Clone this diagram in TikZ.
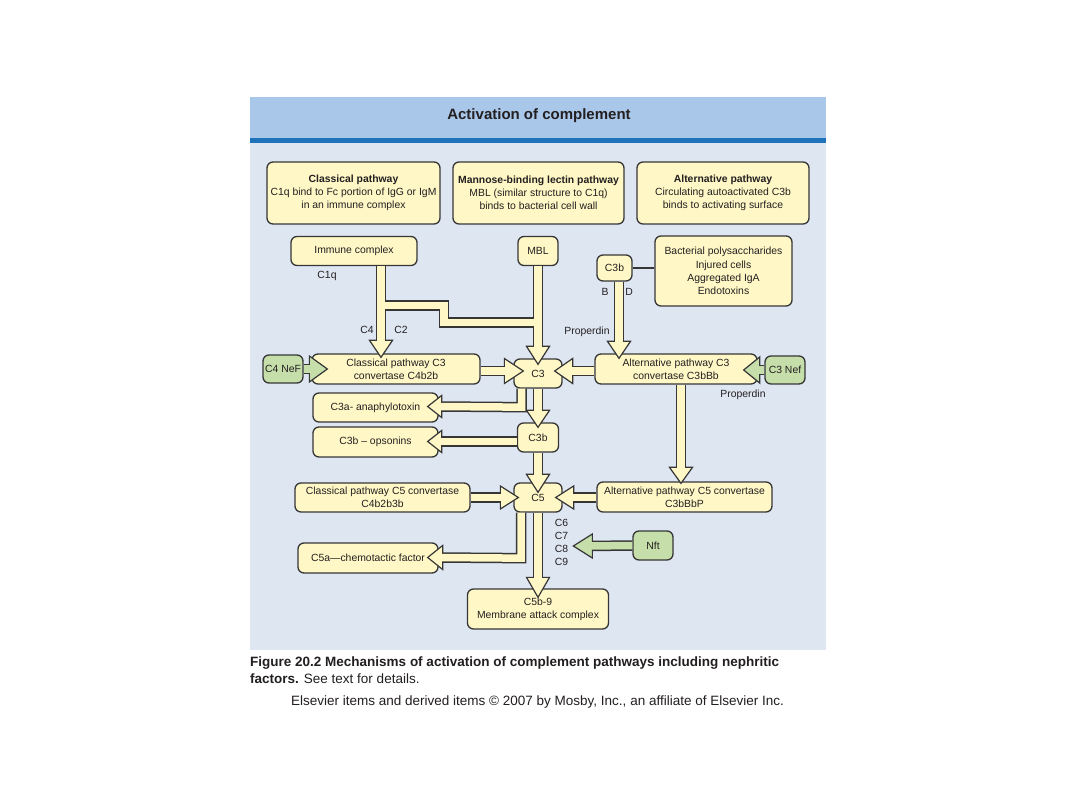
\documentclass[tikz,border=0pt]{standalone}
\usepackage{fontspec}
\setmainfont{Liberation Sans}
\usetikzlibrary{calc}
\definecolor{panel}{HTML}{DEE6F2}
\definecolor{hdr}{HTML}{A9C8E9}
\definecolor{hline}{HTML}{1F73BA}
\definecolor{cream}{HTML}{FFF8C6}
\definecolor{grn}{HTML}{C6DEAA}
\definecolor{dk}{HTML}{363636}
\definecolor{txt}{HTML}{231F20}
\pgfdeclarelayer{back}\pgfdeclarelayer{bg}\pgfdeclarelayer{fg}
\pgfsetlayers{back,bg,main,fg}
\tikzset{
  box/.style={draw=dk, line width=1.3pt, fill=cream, rounded corners=6pt, inner sep=0pt,
    align=center, text=txt, font=\fontsize{10.4}{13.2}\selectfont},
  gbox/.style={box, fill=grn},
  lbl/.style={inner sep=0pt, text=txt, font=\fontsize{10.4}{12}\selectfont},
  shaftout/.style={line width=10.5pt, draw=dk, line join=miter, line cap=butt},
  shaftin/.style={line width=7.5pt, line join=miter, line cap=butt},
  headst/.style={draw=dk, line width=1.2pt, line join=miter},
}
% #1 head length, #2 head half-width, #3 path start (ending with --), #4 tip, #5 angle, #6 colour
\newcommand\barrow[6]{%
  \begin{pgfonlayer}{bg}
    \draw[shaftout] #3 ($(#4)+({#5+180}:#1pt)+({#5}:3pt)$);
  \end{pgfonlayer}
  \begin{pgfonlayer}{fg}
    \filldraw[headst, fill=#6] (#4) -- ($(#4)+({#5+180}:#1pt)+({#5+90}:#2pt)$)
      -- ($(#4)+({#5+180}:#1pt)+({#5-90}:#2pt)$) -- cycle;
    \draw[shaftin, draw=#6] #3 ($(#4)+({#5+180}:#1pt)+({#5}:3pt)$);
  \end{pgfonlayer}}
\begin{document}
\begin{tikzpicture}[x=1pt,y=-1pt]
\useasboundingbox (0,0) rectangle (1080,810);
\begin{pgfonlayer}{back}
  \fill[white] (0,0) rectangle (1080,810);
  \fill[hdr] (250,97) rectangle (826,138);
  \fill[hline] (250,138) rectangle (826,143);
  \fill[panel] (250,143) rectangle (826,650);
\end{pgfonlayer}

\node[text=txt, font=\fontsize{15}{18}\selectfont\bfseries] (title) at (539,116) {Activation of complement};

% top description boxes
\node[box, minimum width=173pt, minimum height=62pt] (cp) at (353.5,193)
  {\textbf{Classical pathway}\\C1q bind to Fc portion of IgG or IgM\\in an immune complex};
\node[box, minimum width=171pt, minimum height=62pt] (mp) at (538.5,193)
  {\textbf{Mannose-binding lectin pathway}\\MBL (similar structure to C1q)\\binds to bacterial cell wall};
\node[box, minimum width=172pt, minimum height=62pt] (altp) at (723,193)
  {\textbf{Alternative pathway}\\Circulating autoactivated C3b\\binds to activating surface};

% flow boxes
\node[box, minimum width=126pt, minimum height=29pt] (ic) at (354,251) {Immune complex};
\node[box, minimum width=40pt, minimum height=29pt] (mbl) at (538,251) {MBL};
\node[box, minimum width=35pt, minimum height=26pt] (c3bs) at (614.5,268) {C3b};
\node[box, minimum width=137pt, minimum height=70pt] (bact) at (723.5,271)
  {Bacterial polysaccharides\\Injured cells\\Aggregated IgA\\Endotoxins};
\node[box, minimum width=168pt, minimum height=30pt] (cc3) at (396,369)
  {Classical pathway C3\\convertase C4b2b};
\node[gbox, minimum width=40pt, minimum height=28pt] (c4nef) at (283,369) {C4 NeF};
\node[box, minimum width=48pt, minimum height=29pt] (c3) at (538,373.5) {C3};
\node[box, minimum width=162pt, minimum height=30pt] (ac3) at (676,369)
  {Alternative pathway C3\\convertase C3bBb};
\node[gbox, minimum width=40pt, minimum height=28pt] (c3nef) at (785,370) {C3 Nef};
\node[box, minimum width=125pt, minimum height=29pt] (c3a) at (375.5,407.5) {C3a- anaphylotoxin};
\node[box, minimum width=125pt, minimum height=30pt] (c3bo) at (375.5,442) {C3b -- opsonins};
\node[box, minimum width=41pt, minimum height=29pt] (c3b) at (538,437.5) {C3b};
\node[box, minimum width=175pt, minimum height=29pt] (cc5) at (382.5,497.5)
  {Classical pathway C5 convertase\\C4b2b3b};
\node[box, minimum width=48pt, minimum height=29pt] (c5) at (538,497.5) {C5};
\node[box, minimum width=175pt, minimum height=30pt] (ac5) at (684.5,497)
  {Alternative pathway C5 convertase\\C3bBbP};
\node[box, minimum width=140pt, minimum height=30pt] (c5a) at (368,558) {C5a---chemotactic factor};
\node[gbox, minimum width=40pt, minimum height=29pt] (nft) at (653,545.5) {Nft};
\node[box, minimum width=141pt, minimum height=40pt] (mac) at (538,609)
  {C5b-9\\Membrane attack complex};

% labels
\node[lbl] (lc1q) at (327,275.5) {C1q};
\node[lbl] (lc4) at (367,330) {C4};
\node[lbl] (lc2) at (401,330) {C2};
\node[lbl] (lb) at (605,292) {B};
\node[lbl] (ld) at (629,292) {D};
\node[lbl] (lprop1) at (587,332) {Properdin};
\node[lbl] (lprop2) at (743,395) {Properdin};
\node[lbl] (lc6) at (561.5,522.5) {C6};
\node[lbl] (lc7) at (561.5,535.5) {C7};
\node[lbl] (lc8) at (561.5,548.5) {C8};
\node[lbl] (lc9) at (561.5,561.5) {C9};
\coordinate (c8tip) at ($(lc8.east)+(5,-2.5)$);

% thin connector C3b -- activators
\draw[dk, line width=1.5pt] (c3bs.east) -- (c3bs.east -| bact.west);

% branch from immune complex line to MBL line
\begin{pgfonlayer}{bg}
  \draw[shaftout] ($(ic.south)+(27,39.5)$) -- ($(ic.south)+(90,39.5)$) -- ($(ic.south)+(90,56.5)$) -- ($(mbl.south)+(0,56.5)$);
\end{pgfonlayer}
\begin{pgfonlayer}{fg}
  \draw[shaftin, draw=cream] ($(ic.south)+(27,39.5)$) -- ($(ic.south)+(90,39.5)$) -- ($(ic.south)+(90,56.5)$) -- ($(mbl.south)+(0,56.5)$);
\end{pgfonlayer}

% block arrows
\barrow{17}{11.5}{($(ic.south)+(27,0)$) --}{$(cc3.north)+(-15,4)$}{-90}{cream}
\barrow{18}{11.5}{(mbl.south) --}{$(c3.north)+(0,6)$}{-90}{cream}
\barrow{17}{11.5}{($(c3bs.south)+(4.5,0)$) --}{$(ac3.north)+(-57,5)$}{-90}{cream}
\barrow{19}{12.5}{($(cc3.east)+(0,2)$) --}{$(c3.west)+(10,-2.5)$}{0}{cream}
\barrow{18}{12.5}{($(ac3.west)+(0,2)$) --}{$(c3.east)+(-8,-2.5)$}{180}{cream}
\barrow{18}{13}{(c4nef.east) --}{$(cc3.west)+(16,0)$}{0}{grn}
\barrow{16}{13}{(c3nef.west) --}{$(ac3.east)+(-14,1)$}{180}{grn}
\barrow{17}{11.5}{(c3.south) --}{$(c3b.north)+(0,5)$}{-90}{cream}
\barrow{14}{11}{($(c3.south)+(-16.5,0)$) -- ($(c3.south)+(-16.5,18.5)$) --}{$(c3a.east)+(-11,-1)$}{180}{cream}
\barrow{14}{11}{($(c3b.west)+(0,4)$) --}{$(c3bo.east)+(-11,-0.5)$}{180}{cream}
\barrow{18}{11.5}{(c3b.south) --}{$(c5.north)+(0,10)$}{-90}{cream}
\barrow{18}{11.5}{(cc5.east) --}{$(c5.west)+(5,0)$}{0}{cream}
\barrow{18}{11.5}{($(ac5.west)+(0,0.5)$) --}{$(c5.east)+(-7,0)$}{180}{cream}
\barrow{16}{11.5}{($(ac3.south)+(5,0)$) --}{$(ac5.north)+(-3.5,2)$}{-90}{cream}
\barrow{15}{12}{($(c5.south)+(-17,0)$) -- ($(c5.south)+(-17,45.5)$) --}{$(c5a.east)+(-11,-0.5)$}{180}{cream}
\barrow{20}{11.5}{(c5.south) --}{$(mac.north)+(0,9)$}{-90}{cream}
\barrow{19}{12}{(nft.west) --}{c8tip}{180}{grn}

% caption
\node[anchor=west, inner sep=0pt, text=txt, font=\fontsize{13.5}{16}\selectfont] (cap1) at (250,663)
  {\textbf{Figure 20.2 Mechanisms of activation of complement pathways including nephritic}};
\node[anchor=west, inner sep=0pt, text=txt, font=\fontsize{13.5}{16}\selectfont] (cap2) at (250,679)
  {\textbf{factors.} See text for details.};
\node[anchor=west, inner sep=0pt, text=txt, font=\fontsize{13.5}{16}\selectfont] (copy) at (291,702)
  {Elsevier items and derived items \textcopyright{} 2007 by Mosby, Inc., an affiliate of Elsevier Inc.};
\end{tikzpicture}
\end{document}
